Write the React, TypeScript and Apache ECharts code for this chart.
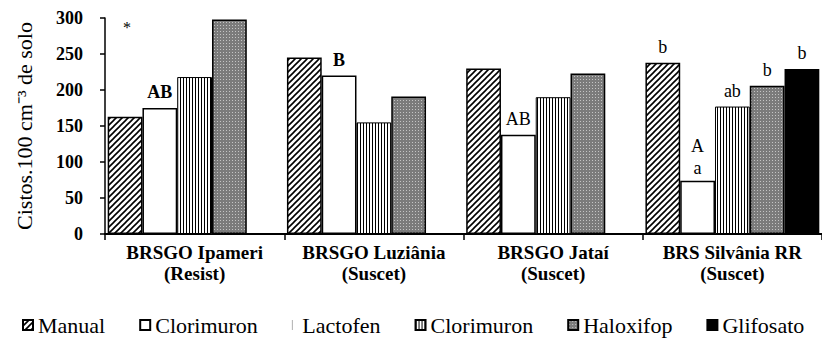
import React, { useEffect, useRef } from "react";
import * as echarts from "echarts";

// Cultivars on the category axis
const cultivars = [
  "BRSGO Ipameri\n(Resist)",
  "BRSGO Luziânia\n(Suscet)",
  "BRSGO Jataí\n(Suscet)",
  "BRS Silvânia RR\n(Suscet)",
];

// Cysts per 100 cm³ of soil, by treatment
const manual = [163, 245, 230, 238];
const clorimuron = [175, 220, 138, 74];
const clorimuronStriped = [218, 155, 190, 177];
const haloxifop = [298, 191, 223, 206];
const glifosato = [null, null, null, 229];

// Letters of the mean comparison test above each bar
const manualLetters = ["*", "", "", "b"];
const clorimuronLetters = ["AB", "B", "AB", "A\na"];
const clorimuronStripedLetters = ["", "", "", "ab"];
const haloxifopLetters = ["", "", "", "b"];
const glifosatoLetters = ["", "", "", "b"];

// Legend entries, in order
const legendNames = ["Manual", "Clorimuron", "Lactofen", "Clorimuron ", "Haloxifop", "Glifosato"];

const yMin = 0;
const yMax = 300;
const yStep = 50;

const FONT = "Liberation Serif";

function tile(w: number, h: number, draw: (g: CanvasRenderingContext2D) => void) {
  const c = document.createElement("canvas");
  c.width = w;
  c.height = h;
  const g = c.getContext("2d") as CanvasRenderingContext2D;
  draw(g);
  return c;
}

function makePatterns() {
  const hatch = tile(6, 6, (g) => {
    g.fillStyle = "#fff";
    g.fillRect(0, 0, 6, 6);
    g.strokeStyle = "#000";
    g.lineWidth = 1.6;
    g.beginPath();
    g.moveTo(-1, 7);
    g.lineTo(7, -1);
    g.moveTo(-1, 1);
    g.lineTo(1, -1);
    g.moveTo(5, 7);
    g.lineTo(7, 5);
    g.stroke();
  });
  const vstripes = tile(3, 4, (g) => {
    g.fillStyle = "#fff";
    g.fillRect(0, 0, 3, 4);
    g.fillStyle = "#000";
    g.fillRect(0, 0, 1, 4);
  });
  const dots = tile(3, 3, (g) => {
    g.fillStyle = "#7b7b7b";
    g.fillRect(0, 0, 3, 3);
    g.fillStyle = "#c4c4c4";
    g.fillRect(1, 1, 1, 1);
  });
  return {
    hatch: { image: hatch, repeat: "repeat" },
    vstripes: { image: vstripes, repeat: "repeat" },
    dots: { image: dots, repeat: "repeat" },
  };
}

function barData(values: (number | null)[], letters: string[], boldGroups: number[] = []) {
  return values.map((v, i) => {
    if (v == null) return "-";
    const text = letters[i];
    const item: any = { value: v };
    if (text === "*") {
      item.label = { fontSize: 16, offset: [2, -74] };
    } else if (text.includes("\n")) {
      item.label = { lineHeight: 22, distance: 2 };
    } else if (boldGroups.includes(i)) {
      item.label = { fontWeight: "bold" };
    }
    return item;
  });
}

function letterLabel(letters: string[]) {
  return {
    show: true,
    position: "top",
    distance: 7,
    color: "#000",
    fontFamily: FONT,
    fontSize: 18,
    formatter: (p: any) => letters[p.dataIndex] || "",
  };
}

export default function App() {
  const ref = useRef<HTMLDivElement>(null);

  useEffect(() => {
    if (!ref.current) return;
    const chart = echarts.init(ref.current, undefined, { renderer: "svg" });
    const pat = makePatterns();
    const border = { borderColor: "#000", borderWidth: 1.5 };

    chart.setOption({
      animation: false,
      backgroundColor: "#fff",
      textStyle: { fontFamily: FONT, color: "#000" },
      grid: { left: 105, top: 18, width: 724, height: 216, containLabel: false },
      legend: {
        left: 22,
        top: 314,
        padding: 0,
        itemWidth: 10,
        itemHeight: 10,
        itemGap: 34,
        symbolKeepAspect: true,
        selectedMode: false,
        textStyle: { fontFamily: FONT, fontSize: 22, color: "#000" },
        formatter: (name: string) => name.trim(),
        data: legendNames.map((n) =>
          n === "Lactofen" ? { name: n, icon: "path://M0,0h1v10h-1z" } : { name: n, icon: "rect" }
        ),
      },
      xAxis: {
        type: "category",
        data: cultivars,
        axisLine: { lineStyle: { color: "#000", width: 2 } },
        axisTick: { show: true, length: 6, lineStyle: { color: "#000", width: 1.5 } },
        axisLabel: {
          interval: 0,
          margin: 8,
          color: "#000",
          fontFamily: FONT,
          fontWeight: "bold",
          fontSize: 19,
          lineHeight: 21,
        },
      },
      yAxis: {
        type: "value",
        min: yMin,
        max: yMax,
        interval: yStep,
        name: "Cistos.100 cm⁻³ de solo",
        nameLocation: "middle",
        nameRotate: 90,
        nameGap: 70,
        nameTextStyle: { fontFamily: FONT, fontSize: 22, color: "#000" },
        axisLine: { show: true, lineStyle: { color: "#000", width: 1.5 } },
        axisTick: { show: true, length: 5, lineStyle: { color: "#000", width: 1.5 } },
        splitLine: { show: false },
        axisLabel: {
          margin: 22,
          color: "#000",
          fontFamily: FONT,
          fontWeight: "bold",
          fontSize: 18,
        },
      },
      series: [
        {
          name: "Manual",
          type: "bar",
          barGap: "0%",
          barCategoryGap: "3%",
          itemStyle: { color: pat.hatch, ...border },
          label: letterLabel(manualLetters),
          data: barData(manual, manualLetters),
        },
        {
          name: "Clorimuron",
          type: "bar",
          barGap: "0%",
          barCategoryGap: "3%",
          itemStyle: { color: "#fff", ...border },
          label: letterLabel(clorimuronLetters),
          data: barData(clorimuron, clorimuronLetters, [0, 1]),
        },
        {
          name: "Lactofen",
          type: "line",
          data: [],
          itemStyle: { color: "#b0b0b0" },
          lineStyle: { color: "#b0b0b0" },
        },
        {
          name: "Clorimuron ",
          type: "bar",
          barGap: "0%",
          barCategoryGap: "3%",
          itemStyle: { color: pat.vstripes, borderColor: "#000", borderWidth: 1 },
          label: letterLabel(clorimuronStripedLetters),
          data: barData(clorimuronStriped, clorimuronStripedLetters),
        },
        {
          name: "Haloxifop",
          type: "bar",
          barGap: "0%",
          barCategoryGap: "3%",
          itemStyle: { color: pat.dots, ...border },
          label: letterLabel(haloxifopLetters),
          data: barData(haloxifop, haloxifopLetters),
        },
        {
          name: "Glifosato",
          type: "bar",
          barGap: "0%",
          barCategoryGap: "3%",
          itemStyle: { color: "#000", ...border },
          label: letterLabel(glifosatoLetters),
          data: barData(glifosato, glifosatoLetters),
        },
      ],
    });

    return () => chart.dispose();
  }, []);

  return (
    <div
      ref={ref}
      style={{ position: "fixed", left: 0, top: 0, width: 822, height: 341, background: "#fff" }}
    />
  );
}
